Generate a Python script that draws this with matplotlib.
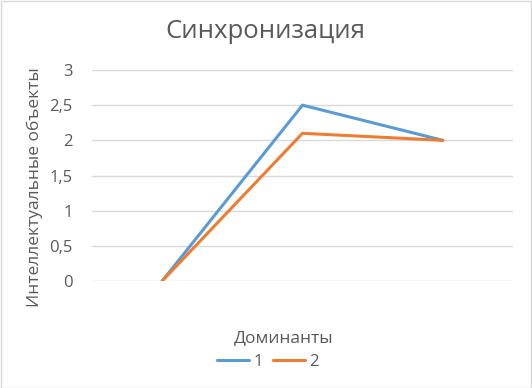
import matplotlib.pyplot as plt
from matplotlib.patches import Rectangle

plt.rcParams['font.family'] = ['Open Sans', 'DejaVu Sans']

# данные графика
categories = ['1', '2', '3']
series_names = ['1', '2']
series_1 = [0, 2.5, 2.0]
series_2 = [0, 2.1, 2.0]
y_ticks = [0, 0.5, 1, 1.5, 2, 2.5, 3]

text_gray = '#595959'
grid_gray = '#D9D9D9'

fig = plt.figure(figsize=(5.32, 3.88), dpi=100)
ax = fig.add_axes([92 / 532, 1 - 281 / 388, 421 / 532, 211 / 388])

x = range(len(categories))
ax.plot(x, series_1, color='#5B9BD5', linewidth=2.2, label=series_names[0],
        solid_capstyle='round')
ax.plot(x, series_2, color='#ED7D31', linewidth=2.2, label=series_names[1],
        solid_capstyle='round')

ax.set_xlim(-0.5, len(categories) - 0.5)
ax.set_ylim(0, 3)
ax.set_yticks(y_ticks)
ax.set_yticklabels([f'{v:g}'.replace('.', ',') for v in y_ticks])
ax.set_xticks([])
ax.tick_params(axis='y', length=0, pad=14, labelsize=12, labelcolor=text_gray)
ax.grid(axis='y', color=grid_gray, linewidth=1)
ax.set_axisbelow(True)
for s in ax.spines.values():
    s.set_visible(False)

fig.text(265 / 532, 1 - 32 / 388, 'Синхронизация', ha='center', va='center',
         fontsize=18.5, color=text_gray)
fig.text(35 / 532, 1 - 187 / 388, 'Интеллектуальные объекты', rotation=90,
         ha='center', va='center', fontsize=12.5, color=text_gray)
fig.text(284 / 532, 1 - 338 / 388, 'Доминанты', ha='center', va='center',
         fontsize=12.5, color=text_gray)

fig.legend(loc='center', bbox_to_anchor=(268 / 532, 1 - 362 / 388), ncol=2,
           frameon=False, fontsize=12, labelcolor=text_gray,
           handlelength=1.95, handletextpad=0.25, columnspacing=0.6)

# рамка области диаграммы
fig.patches.append(Rectangle((0.001, 0.001), 0.997, 0.997, transform=fig.transFigure,
                             fill=False, edgecolor=grid_gray, linewidth=1))

fig.savefig('out.png', dpi=100)
